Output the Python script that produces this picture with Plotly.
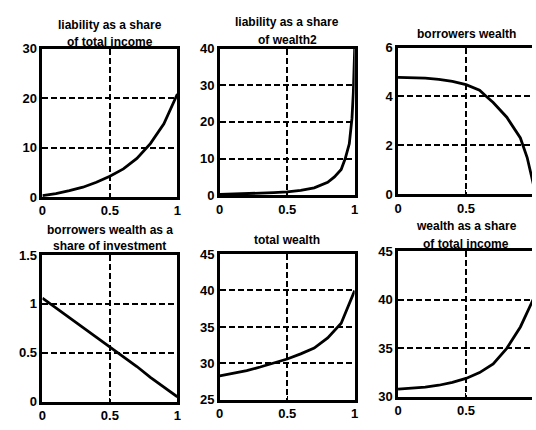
import plotly.graph_objects as go
from plotly.subplots import make_subplots

# ---- data ----
x1 = [0, 0.1, 0.2, 0.3, 0.4, 0.5, 0.6, 0.7, 0.8, 0.9, 1.0]
liab_income = [0.3, 0.7, 1.3, 2.0, 3.0, 4.2, 5.7, 7.8, 10.8, 14.8, 20.8]

x2 = [0, 0.1, 0.2, 0.3, 0.4, 0.5, 0.6, 0.7, 0.8, 0.85, 0.9, 0.93, 0.96, 0.98, 0.99, 1.0]
liab_wealth2 = [0.2, 0.3, 0.4, 0.5, 0.7, 0.9, 1.3, 2.0, 3.5, 5.0, 7.0, 10.0, 14.0, 21.0, 28.0, 40.0]

x3 = [0, 0.1, 0.2, 0.3, 0.4, 0.5, 0.6, 0.65, 0.7, 0.8, 0.9, 0.95, 1.0]
borrowers_wealth = [4.78, 4.78, 4.75, 4.7, 4.62, 4.48, 4.25, 4.0, 3.75, 3.15, 2.3, 1.5, 0.3]

x4 = [0, 0.1, 0.2, 0.3, 0.4, 0.5, 0.6, 0.7, 0.8, 0.9, 1.0]
bw_share_inv = [1.06, 0.96, 0.86, 0.76, 0.66, 0.56, 0.46, 0.36, 0.25, 0.15, 0.05]

x5 = [0, 0.1, 0.2, 0.3, 0.4, 0.5, 0.6, 0.7, 0.8, 0.9, 1.0]
total_wealth = [28.3, 28.6, 29.0, 29.5, 30.0, 30.6, 31.3, 32.1, 33.5, 35.5, 40.0]

x6 = [0, 0.1, 0.2, 0.3, 0.4, 0.5, 0.6, 0.7, 0.8, 0.9, 0.95, 1.0]
wealth_income = [30.8, 30.9, 31.0, 31.2, 31.5, 31.9, 32.5, 33.4, 35.0, 37.2, 38.7, 40.2]

titles = ["liability as a share<br>of total income",
          "liability as a share<br>of wealth2",
          "borrowers wealth",
          "borrowers wealth as a<br>share of investment",
          "total wealth",
          "wealth as a share<br>of total income"]

yranges = [[0, 30], [0, 40], [0, 6], [0, 1.5], [25, 45], [30, 45]]
ydticks = [10, 10, 2, 0.5, 5, 5]

W, H = 536, 430
# pixel boxes (left, right, top, bottom)
boxes = [(39, 176, 43, 197), (219, 356, 43, 195), (400, 538, 42, 194),
         (39, 176, 257, 409), (219, 356, 256, 407), (400, 538, 253, 404)]
title_y = [(19, 36), (16, 34), (28,), (231, 248), (241,), (227, 246)]

fig = make_subplots(rows=2, cols=3)
series = [(x1, liab_income), (x2, liab_wealth2), (x3, borrowers_wealth),
          (x4, bw_share_inv), (x5, total_wealth), (x6, wealth_income)]

font_tick = dict(family="Liberation Sans", size=13, color="black", weight="bold")
for i, (xs, ys) in enumerate(series):
    r, c = i // 3 + 1, i % 3 + 1
    fig.add_trace(go.Scatter(x=xs, y=ys, mode="lines",
                             line=dict(color="black", width=2.8),
                             showlegend=False), row=r, col=c)
    L, R, T, B = boxes[i]
    xr = 1.0
    right = R
    if R > W:
        xr = (W - L) / (R - L)
        right = W
    xd = [L / W, right / W]
    yd = [1 - B / H, 1 - T / H]
    n = "" if i == 0 else str(i + 1)
    fig.layout["xaxis" + n].update(
        domain=xd, range=[0, xr], tickvals=[0, 0.5, 1], ticktext=["0", "0.5", "1"],
        showgrid=True, gridcolor="black", griddash="6px,3px", gridwidth=1.8,
        zeroline=False, showline=True, linecolor="black", linewidth=2.5,
        mirror=True, ticks="inside", ticklen=4, tickcolor="black",
        tickfont=font_tick, fixedrange=True)
    fig.layout["yaxis" + n].update(
        domain=yd, range=yranges[i], dtick=ydticks[i], tick0=yranges[i][0],
        showgrid=True, gridcolor="black", griddash="6px,3px", gridwidth=1.8,
        zeroline=False, showline=True, linecolor="black", linewidth=2.5,
        mirror=(R <= W), ticks="inside", ticklen=4, tickcolor="black",
        tickfont=font_tick, fixedrange=True)
    # title lines
    lines = titles[i].split("<br>")
    cx = (L + R) / 2 / W
    for ln, ty in zip(lines, title_y[i]):
        fig.add_annotation(x=min(cx, 1), y=1 - ty / H, xref="paper", yref="paper",
                           text="<b>" + ln + "</b>", showarrow=False,
                           font=dict(family="Liberation Sans", size=12, color="black"),
                           xanchor="center", yanchor="middle")

fig.update_layout(width=W, height=H, margin=dict(l=0, r=0, t=0, b=0),
                  paper_bgcolor="white", plot_bgcolor="white")
fig.write_html("out.html")
